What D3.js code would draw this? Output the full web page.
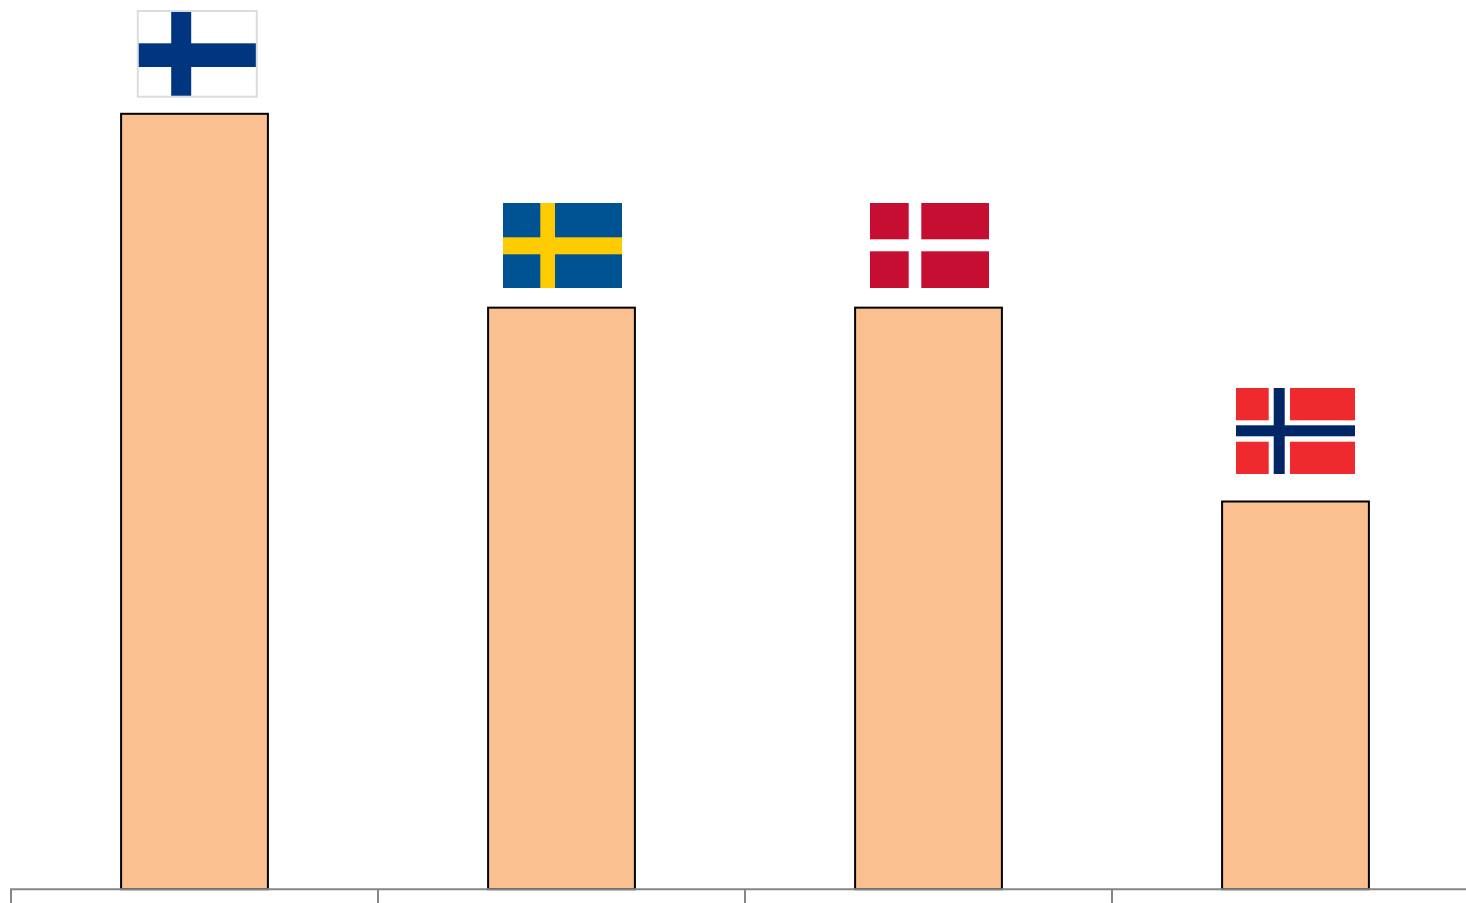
<!DOCTYPE html>
<html>
<head>
<meta charset="utf-8">
<script src="https://d3js.org/d3.v7.min.js"></script>
<style>
html, body { margin: 0; padding: 0; background: #fff; overflow: hidden; }
svg { display: block; }
.bar { fill: #fac090; stroke: #000; stroke-width: 2; }
.axis-line { stroke: #868686; stroke-width: 2; fill: none; }
</style>
</head>
<body>
<div id="chart"></div>
<script>
var countries = ["Finland", "Sweden", "Denmark", "Norway"];
var values = [4, 3, 3, 2];

var width = 1466;
var height = 903;
var baseline = 889.2;
var flagWidth = 119;
var flagHeight = 85;

// flag placement relative to bar centre / bar top
var flagStyles = {
    Finland: {
        dx: 2.8, gap: 17.1, h: 85.7, bg: "#fff", border: "#dcdcdc",
        crosses: [{ color: "#003580", vx: 33.4, vw: 20, hy: 32.3, hh: 23.7 }]
    },
    Sweden: {
        dx: 1, gap: 19.65, bg: "#005293",
        crosses: [{ color: "#fecb00", vx: 37.3, vw: 14.7, hy: 34.3, hh: 17 }]
    },
    Denmark: {
        dx: 1, gap: 19.65, bg: "#c60c30",
        crosses: [{ color: "#fff", vx: 38.7, vw: 12.6, hy: 36.3, hh: 12 }]
    },
    Norway: {
        dx: 0, gap: 27.5, h: 86, bg: "#ef2b2d",
        crosses: [
            { color: "#fff", vx: 32.7, vw: 21.3, hy: 32.3, hh: 21.4 },
            { color: "#002868", vx: 37.7, vw: 11, hy: 37.3, hh: 11 }
        ]
    }
};

var x = d3.scaleBand()
    .domain(countries)
    .range([11, 1479])
    .paddingInner(0.6)
    .paddingOuter(0.3);

var y = d3.scaleLinear()
    .domain([0, 4])
    .range([baseline, 113.8]);

var data = countries.map(function(name, i) {
    return { name: name, value: values[i] };
});

var svg = d3.select("#chart").append("svg")
    .attr("width", width)
    .attr("height", height);

// the flags in the original are scaled bitmaps, so slightly soft
svg.append("defs").append("filter")
    .attr("id", "soft")
    .append("feGaussianBlur")
    .attr("stdDeviation", 0.4);

svg.selectAll(".bar")
    .data(data).enter().append("rect")
    .attr("class", "bar")
    .attr("x", function(d) { return x(d.name); })
    .attr("y", function(d) { return y(d.value); })
    .attr("width", x.bandwidth())
    .attr("height", function(d) { return baseline - y(d.value); });

// category axis, ticks sit between the bands
var step = x.step();
var axisStart = x(countries[0]) - x.paddingOuter() * step;
svg.append("line")
    .attr("class", "axis-line")
    .attr("x1", axisStart - 1)
    .attr("x2", width)
    .attr("y1", baseline)
    .attr("y2", baseline);

svg.selectAll(".tick-line")
    .data(countries).enter().append("line")
    .attr("class", "axis-line tick-line")
    .attr("x1", function(d, i) { return axisStart + i * step; })
    .attr("x2", function(d, i) { return axisStart + i * step; })
    .attr("y1", baseline)
    .attr("y2", height);

var flag = svg.selectAll(".flag")
    .data(data).enter().append("g")
    .attr("class", "flag")
    .attr("transform", function(d) {
        var s = flagStyles[d.name];
        var fx = x(d.name) + x.bandwidth() / 2 + s.dx - flagWidth / 2;
        var fy = y(d.value) - s.gap - (s.h || flagHeight);
        return "translate(" + fx + "," + fy + ")";
    });

var flagArt = flag.append("g")
    .attr("filter", "url(#soft)");

flagArt.append("rect")
    .attr("width", flagWidth)
    .attr("height", function(d) { return flagStyles[d.name].h || flagHeight; })
    .attr("fill", function(d) { return flagStyles[d.name].bg; });

flagArt.each(function(d) {
    var s = flagStyles[d.name];
    var g = d3.select(this);
    var h = s.h || flagHeight;
    s.crosses.forEach(function(c) {
        g.append("rect")
            .attr("x", c.vx).attr("y", 0)
            .attr("width", c.vw).attr("height", h)
            .attr("fill", c.color);
        g.append("rect")
            .attr("x", 0).attr("y", c.hy)
            .attr("width", flagWidth).attr("height", c.hh)
            .attr("fill", c.color);
    });
    // border goes on top so the cross stops inside it
    if (s.border) {
        g.append("rect")
            .attr("width", flagWidth)
            .attr("height", h)
            .attr("fill", "none")
            .attr("stroke", s.border)
            .attr("stroke-width", 2);
    }
});
</script>
</body>
</html>
